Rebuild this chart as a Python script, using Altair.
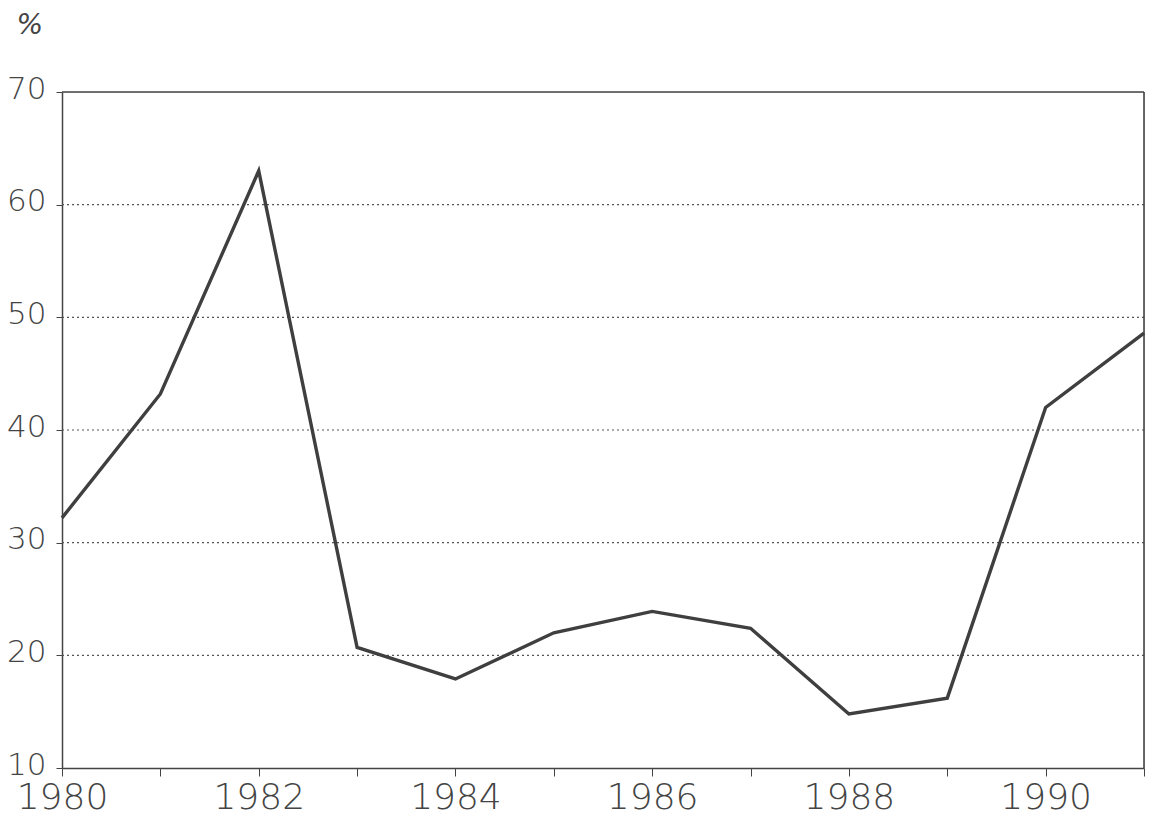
import altair as alt
import pandas as pd

years = [1980, 1981, 1982, 1983, 1984, 1985, 1986, 1987, 1988, 1989, 1990, 1991]
values = [32.2, 43.2, 63.0, 20.7, 17.9, 22.0, 23.9, 22.4, 14.8, 16.2, 42.0, 48.6]
y_ticks = [10, 20, 30, 40, 50, 60, 70]
grid_values = [20, 30, 40, 50, 60]

df = pd.DataFrame({"year": years, "value": values})

FONT = "DejaVu Sans"
GRAY = "#444444"

xscale = alt.Scale(domain=[1980, 1991], nice=False, zero=False)
yscale = alt.Scale(domain=[10, 70], nice=False, zero=False)

grid = alt.Chart(pd.DataFrame({"g": grid_values})).mark_rule(
    color="#555555", strokeWidth=1.2, strokeDash=[2, 3]
).encode(y=alt.Y("g:Q", scale=yscale))

frame_top = alt.Chart().mark_rule(color=GRAY, strokeWidth=1.6).encode(
    y=alt.datum(70, scale=yscale)
)
frame_right = alt.Chart().mark_rule(color=GRAY, strokeWidth=1.6).encode(
    x=alt.datum(1991, scale=xscale)
)

line = alt.Chart(df).mark_line(color="#3f3f3f", strokeWidth=3.4, strokeJoin="miter").encode(
    x=alt.X(
        "year:Q",
        scale=xscale,
        axis=alt.Axis(
            values=years,
            labelExpr="datum.value % 2 == 0 ? datum.label : ''",
            format="d",
            title=None,
            grid=False,
            tickSize=8,
            tickColor=GRAY,
            domainColor=GRAY,
            domainWidth=1.5,
            labelFont=FONT,
            labelFontWeight=200,
            labelFontSize=36,
            labelColor=GRAY,
            labelPadding=4,
            labelFlush=False,
            labelOverlap=False,
        ),
    ),
    y=alt.Y(
        "value:Q",
        scale=yscale,
        axis=alt.Axis(
            values=y_ticks,
            title="%",
            titleAngle=0,
            titleFont=FONT,
            titleFontWeight=200,
            titleFontStyle="italic",
            titleFontSize=28,
            titleColor=GRAY,
            titleAlign="left",
            titleBaseline="top",
            titleX=-46,
            titleY=-81,
            grid=False,
            tickSize=6,
            tickColor=GRAY,
            domainColor=GRAY,
            domainWidth=1.5,
            labelFont=FONT,
            labelFontWeight=200,
            labelFontSize=31,
            labelColor=GRAY,
            labelPadding=10,
            labelOffset=-3,
            labelFlush=False,
            labelOverlap=False,
        ),
    ),
)

chart = (
    alt.layer(grid, frame_top, frame_right, line)
    .properties(
        width=1082,
        height=676,
        autosize=alt.AutoSizeParams(type="none"),
        padding={"left": 54, "top": 84, "right": 2, "bottom": 48},
    )
    .configure_view(stroke=None)
    .configure(background="white")
)

chart.save("out.html", embed_options={"renderer": "svg", "actions": False})
